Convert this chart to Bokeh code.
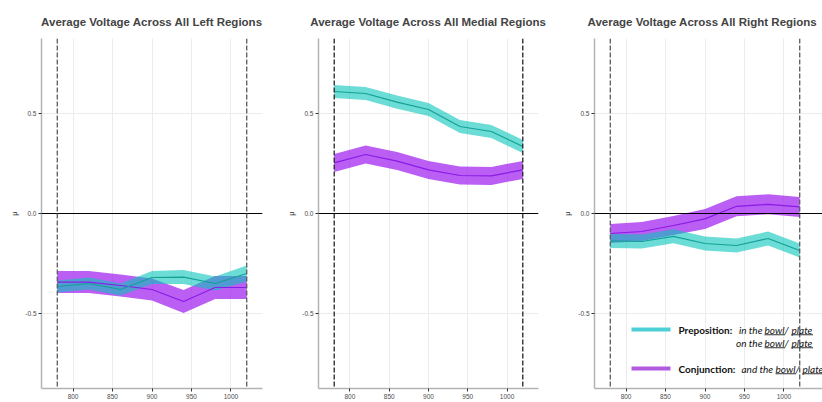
from bokeh.plotting import figure
from bokeh.layouts import row
from bokeh.models import (Range1d, FixedTicker, Span, Label, BoxAnnotation,
                          ColumnDataSource, PrintfTickFormatter)
from bokeh.embed import file_html
from bokeh.resources import INLINE

# ---------------- data ----------------
time_ms = [780, 820, 860, 900, 940, 980, 1020]
x_ticks = [800, 850, 900, 950, 1000]
y_ticks = [-0.5, 0.0, 0.5]

titles = ["Average Voltage Across All Left Regions",
          "Average Voltage Across All Medial Regions",
          "Average Voltage Across All Right Regions"]

left_prep = [-0.365, -0.350, -0.380, -0.320, -0.318, -0.350, -0.300]
left_prep_err = [0.030, 0.030, 0.030, 0.033, 0.035, 0.035, 0.040]
left_conj = [-0.343, -0.343, -0.360, -0.380, -0.440, -0.370, -0.370]
left_conj_err = [0.055, 0.055, 0.055, 0.055, 0.058, 0.057, 0.057]

medial_prep = [0.610, 0.600, 0.557, 0.520, 0.435, 0.410, 0.335]
medial_prep_err = [0.033, 0.033, 0.033, 0.033, 0.033, 0.033, 0.033]
medial_conj = [0.253, 0.295, 0.262, 0.218, 0.190, 0.188, 0.218]
medial_conj_err = [0.045, 0.045, 0.045, 0.045, 0.045, 0.045, 0.045]

right_prep = [-0.137, -0.140, -0.114, -0.150, -0.160, -0.125, -0.185]
right_prep_err = [0.035, 0.035, 0.035, 0.035, 0.035, 0.035, 0.035]
right_conj = [-0.100, -0.090, -0.060, -0.027, 0.036, 0.046, 0.033]
right_conj_err = [0.048, 0.048, 0.048, 0.050, 0.050, 0.050, 0.050]

window_start, window_end = 780, 1020
x_start, x_end = 760, 1040

# ---------------- styles ----------------
PREP_FILL, PREP_ALPHA, PREP_LINE = "#0ac5bb", 0.6, "#14a096"
CONJ_FILL, CONJ_ALPHA, CONJ_LINE = "#a020f0", 0.72, "#8a1be6"
FONT = "Liberation Sans"
FRAME_W = 221


def make_panel(title, prep, prep_err, conj, conj_err, width, border_left, border_right,
               dash_color, frame_w=FRAME_W):
    x_hi = x_start + (x_end - x_start) * frame_w / FRAME_W
    p = figure(width=width, height=402,
               x_range=Range1d(x_start, x_hi), y_range=Range1d(-0.875, 0.875),
               output_backend="svg", toolbar_location=None, title=title,
               min_border_left=border_left, min_border_right=border_right,
               min_border_top=38, min_border_bottom=14)
    p.outline_line_color = None
    p.title.text_font = FONT
    p.title.text_font_style = "bold"
    p.title.text_font_size = "11.5px"
    p.title.align = "center"
    p.title.standoff = 21
    if frame_w != FRAME_W:
        p.title.align = "left"
        p.title.offset = -7

    src = ColumnDataSource(dict(
        x=time_ms, prep=prep, conj=conj,
        prep_lo=[m - e for m, e in zip(prep, prep_err)],
        prep_hi=[m + e for m, e in zip(prep, prep_err)],
        conj_lo=[m - e for m, e in zip(conj, conj_err)],
        conj_hi=[m + e for m, e in zip(conj, conj_err)],
    ))
    p.varea(x="x", y1="conj_lo", y2="conj_hi", source=src,
            fill_color=CONJ_FILL, fill_alpha=CONJ_ALPHA)
    p.varea(x="x", y1="prep_lo", y2="prep_hi", source=src,
            fill_color=PREP_FILL, fill_alpha=PREP_ALPHA)
    p.line(x="x", y="conj", source=src, line_color=CONJ_LINE, line_width=1.2)
    p.line(x="x", y="prep", source=src, line_color=PREP_LINE, line_width=1.2)

    p.add_layout(Span(location=0, dimension="width", line_color="black", line_width=1.2))
    for loc in (window_start, window_end):
        p.add_layout(Span(location=loc, dimension="height", line_color=dash_color,
                          line_width=1.3, line_dash="5 2"))

    p.xaxis.ticker = FixedTicker(ticks=x_ticks)
    p.yaxis.ticker = FixedTicker(ticks=y_ticks)
    p.yaxis.formatter = PrintfTickFormatter(format="%.1f")
    p.xgrid.ticker = FixedTicker(ticks=x_ticks)
    p.ygrid.ticker = FixedTicker(ticks=y_ticks)
    p.grid.grid_line_color = "#ececec"
    p.grid.grid_line_width = 1

    for ax in (p.xaxis[0], p.yaxis[0]):
        ax.axis_line_color = "#b3b3b3"
        ax.axis_line_width = 1.5
        ax.major_tick_line_color = "#333333"
        ax.major_tick_in = 0
        ax.major_tick_out = 3
        ax.minor_tick_line_color = None
        ax.major_label_text_font = FONT
        ax.major_label_text_font_size = "6.5px"
        ax.major_label_text_color = "#4d4d4d"
        ax.major_label_standoff = 2
    p.yaxis.axis_label = "μ"
    p.yaxis.axis_label_text_font = FONT
    p.yaxis.axis_label_text_font_size = "7.5px"
    p.yaxis.axis_label_text_font_style = "normal"
    p.yaxis.axis_label_text_color = "#333333"
    p.yaxis.axis_label_standoff = 3
    return p


p1 = make_panel(titles[0], left_prep, left_prep_err, left_conj, left_conj_err, 284, 41, 22, "#5a5a5a")
p2 = make_panel(titles[1], medial_prep, medial_prep_err, medial_conj, medial_conj_err, 276, 33, 22, "#222222")
p3 = make_panel(titles[2], right_prep, right_prep_err, right_conj, right_conj_err, 262, 33, 0,
                "#5a5a5a", frame_w=228)

# ---------------- legend (right panel, screen units relative to frame) ----------------
LEG_FONT = "Lato"


def sbox(p, l, r, b, t, color):
    p.add_layout(BoxAnnotation(left=l, right=r, bottom=b, top=t,
                               left_units="screen", right_units="screen",
                               bottom_units="screen", top_units="screen",
                               fill_color=color, fill_alpha=1, line_color=None))


def slabel(p, x, y, text, style="italic", align="left", size="10px"):
    p.add_layout(Label(x=x, y=y, x_units="screen", y_units="screen", text=text,
                       text_font=LEG_FONT, text_font_size=size, text_font_style=style,
                       text_color="#111111", text_baseline="middle", text_align=align))


sbox(p3, 37, 76, 57, 61, "#4ecfd6")
sbox(p3, 37, 76, 18, 22, "#b25ae0")
slabel(p3, 84, 59, "Preposition:", "bold")
slabel(p3, 168, 59, "in the", align="right")
slabel(p3, 170, 59, "bowl/")
slabel(p3, 197, 59, "plate")
slabel(p3, 168, 46, "on the", align="right")
slabel(p3, 170, 46, "bowl/")
slabel(p3, 197, 46, "plate")
slabel(p3, 84, 20, "Conjunction:", "bold")
slabel(p3, 147, 20, "and the")
slabel(p3, 181, 20, "bowl/")
slabel(p3, 208, 20, "plate")
UL = "#333333"
sbox(p3, 170, 190.5, 53.3, 54.3, UL)
sbox(p3, 197, 218.5, 53.3, 54.3, UL)
sbox(p3, 170, 190.5, 40.3, 41.3, UL)
sbox(p3, 197, 218.5, 40.3, 41.3, UL)
sbox(p3, 181, 201.5, 14.3, 15.3, UL)
sbox(p3, 208, 229.5, 14.3, 15.3, UL)

layout = row(p1, p2, p3)
open("out.html", "w").write(file_html(layout, INLINE))
